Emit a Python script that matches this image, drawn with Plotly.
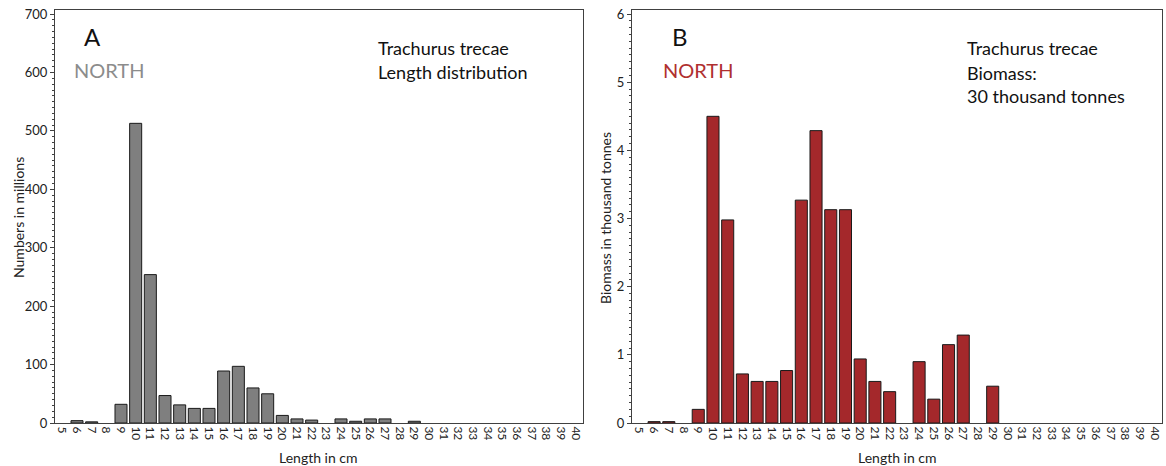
import plotly.graph_objects as go

lengths = [str(i) for i in range(5, 41)]
numbers_millions = [0, 4, 2, 0, 32, 513, 254, 47, 31, 25, 25, 89, 97, 60, 50, 13, 7, 5, 0, 7, 3, 7, 7, 0, 3,
                    0, 0, 0, 0, 0, 0, 0, 0, 0, 0, 0]
biomass_kt = [0, 0.02, 0.02, 0, 0.2, 4.5, 2.98, 0.72, 0.61, 0.61, 0.77, 3.27, 4.29, 3.13, 3.13, 0.94, 0.61, 0.46, 0,
              0.9, 0.35, 1.15, 1.29, 0, 0.54, 0, 0, 0, 0, 0, 0, 0, 0, 0, 0, 0]

FONT = "Lato"
W, H = 1166, 466
grey = "#7f7f7f"
red = "#a4282b"
axcol = "#404040"

def nz(vals):
    return [v if v != 0 else None for v in vals]

fig = go.Figure()
fig.add_trace(go.Bar(x=lengths, y=nz(numbers_millions), marker=dict(color=grey, line=dict(color="#1a1a1a", width=1)),
                     xaxis="x", yaxis="y", showlegend=False))
fig.add_trace(go.Bar(x=lengths, y=nz(biomass_kt), marker=dict(color=red, line=dict(color="#1a1a1a", width=1)),
                     xaxis="x2", yaxis="y2", showlegend=False))

def px(x):
    return x / W

def py(y):
    return 1 - y / H

xcommon = dict(type="category", categoryorder="array", categoryarray=lengths,
               tickmode="linear", tick0=0, dtick=1, tickangle=90,
               showline=True, linecolor=axcol, linewidth=1, mirror=True,
               ticks="", tickfont=dict(size=12, family=FONT, color="#222"), automargin=False,
               showgrid=False, zeroline=False)
ycommon = dict(showline=True, linecolor=axcol, linewidth=1, mirror=True, ticks="outside", ticklen=4,
               tickcolor=axcol, tickfont=dict(size=13, family=FONT, color="#222"), showgrid=False, zeroline=False,
               automargin=False)

fig.update_layout(
    width=W, height=H, margin=dict(l=0, r=0, t=0, b=0),
    paper_bgcolor="white", plot_bgcolor="white", bargap=0.18,
    font=dict(family=FONT),
    xaxis=dict(domain=[px(55), px(583)], anchor="y", **xcommon),
    yaxis=dict(domain=[py(423), py(10)], anchor="x", range=[0, 707], dtick=100,
               minor=dict(dtick=10, ticks="outside", ticklen=2, tickcolor=axcol), **ycommon),
    xaxis2=dict(domain=[px(632), px(1162)], anchor="y2", **xcommon),
    yaxis2=dict(domain=[py(423), py(10)], anchor="x2", range=[0, 6.06], dtick=1,
                minor=dict(dtick=0.1, ticks="outside", ticklen=2, tickcolor=axcol), **ycommon),
)

def ann(text, x, y, size, color="#111", xanchor="left", angle=0):
    fig.add_annotation(text=text, x=px(x), y=py(y), xref="paper", yref="paper", showarrow=False,
                       xanchor=xanchor, yanchor="middle", textangle=angle,
                       font=dict(size=size, family=FONT, color=color), align="left")

ann("A", 82, 37, 24)
ann("NORTH", 72, 70, 20, "#8c8c8c")
ann("Trachurus trecae", 376, 48, 18)
ann("Length distribution", 376, 72, 18)
ann("B", 670, 37, 24)
ann("NORTH", 661, 70, 20, "#b03030")
ann("Trachurus trecae", 965, 48, 18)
ann("Biomass:", 965, 73, 18)
ann("30 thousand tonnes", 965, 96, 18)

ann("Length in cm", 318, 457, 14, "#222", xanchor="center")
ann("Length in cm", 897, 457, 14, "#222", xanchor="center")
ann("Numbers in millions", 18, 218, 14, "#222", xanchor="center", angle=-90)
ann("Biomass in thousand tonnes", 605, 218, 14, "#222", xanchor="center", angle=-90)

fig.write_html("out.html")
